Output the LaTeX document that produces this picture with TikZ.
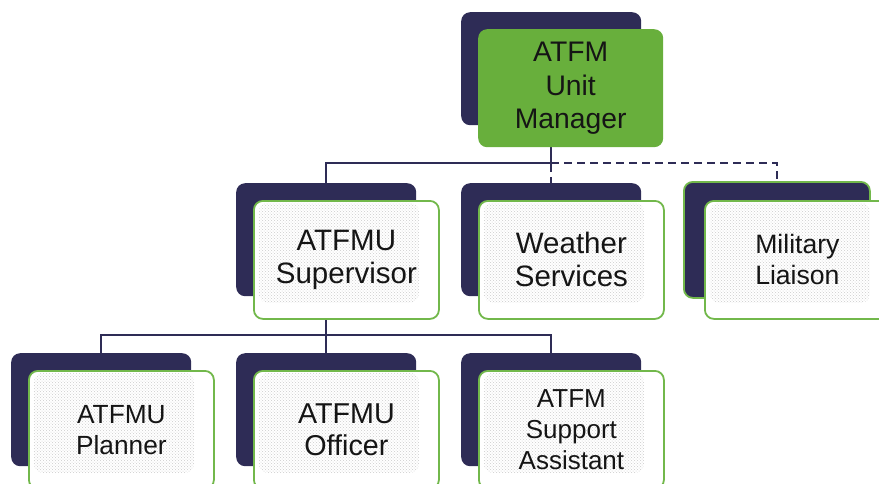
\documentclass[tikz,border=0pt]{standalone}
\usepackage{fontspec}
\setmainfont{Liberation Sans}
\usetikzlibrary{patterns}
\definecolor{navy}{HTML}{2E2C56}
\definecolor{lgreen}{HTML}{68AF3C}
\definecolor{bgreen}{HTML}{72B84B}
\definecolor{txt}{HTML}{151515}
\pgfdeclarelayer{bg}
\pgfsetlayers{bg,main}
\tikzset{
  darkbox/.style={fill=navy, draw=none, rounded corners=9pt, minimum width=180pt,
    minimum height=113pt, anchor=north west, inner sep=0pt},
  whitebox/.style={fill=white, draw=bgreen, line width=1.8pt, rounded corners=9pt,
    minimum width=185pt, minimum height=118pt, anchor=north west, inner sep=0pt,
    align=center, text=txt, font=\fontsize{29.5}{33}\selectfont,
    path picture={\fill[pattern=crosshatch dots, pattern color=black!20]
      ([xshift=5pt,yshift=-2pt]path picture bounding box.north west) rectangle
      ([xshift=-20pt,yshift=16pt]path picture bounding box.south east);}},
  greenbox/.style={fill=lgreen, draw=none, rounded corners=9pt, minimum width=185pt,
    minimum height=118pt, anchor=north west, inner sep=0pt,
    align=center, text=txt, font=\fontsize{28.3}{33.5}\selectfont},
  conn/.style={draw=navy, line width=2pt},
  dconn/.style={conn, dash pattern=on 8pt off 5pt},
}
\begin{document}
\begin{tikzpicture}[x=1pt,y=-1pt]
\useasboundingbox (0,0) rectangle (879,483);
\clip (0,0) rectangle (879,483);
% top
\node[darkbox] (mgr-d) at (461,12) {};
\node[greenbox] (mgr) at (478,29) {ATFM\\Unit\\Manager};
% second row
\node[darkbox] (sup-d) at (236,183) {};
\node[whitebox] (sup) at (253,200) {ATFMU\\Supervisor};
\node[darkbox] (wea-d) at (461,183) {};
\node[whitebox] (wea) at (478,200) {Weather\\Services};
\node[darkbox, draw=bgreen, line width=1.8pt, minimum width=186pt, minimum height=116pt] (mil-d) at (683,181) {};
\node[whitebox, font=\fontsize{26.6}{31}\selectfont] (mil) at (704,200) {Military\\Liaison};
% third row
\node[darkbox] (pla-d) at (11,353) {};
\node[whitebox, font=\fontsize{26.3}{31}\selectfont] (pla) at (28,370) {ATFMU\\Planner};
\node[darkbox] (off-d) at (236,353) {};
\node[whitebox, font=\fontsize{28.7}{32}\selectfont] (off) at (253,370) {ATFMU\\Officer};
\node[darkbox] (sa-d) at (461,353) {};
\node[whitebox, font=\fontsize{26}{31}\selectfont] (sa) at (478,370) {ATFM\\Support\\Assistant};
% connectors
\coordinate (j1) at (551,163);
\coordinate (j2) at (327,335);
\begin{pgfonlayer}{bg}
\draw[conn] (mgr-d.south) -- (mgr-d.south |- j1) -| (sup-d.north);
\draw[dconn] (mgr-d.south) -- (wea-d.north);
\draw[dconn] (mgr-d.south |- j1) -| (mil-d.north);
\draw[conn] (sup-d.south) -- (off-d.north);
\draw[conn] (pla-d.north) |- (sa-d.north |- j2) -- (sa-d.north);
\end{pgfonlayer}
\end{tikzpicture}
\end{document}
